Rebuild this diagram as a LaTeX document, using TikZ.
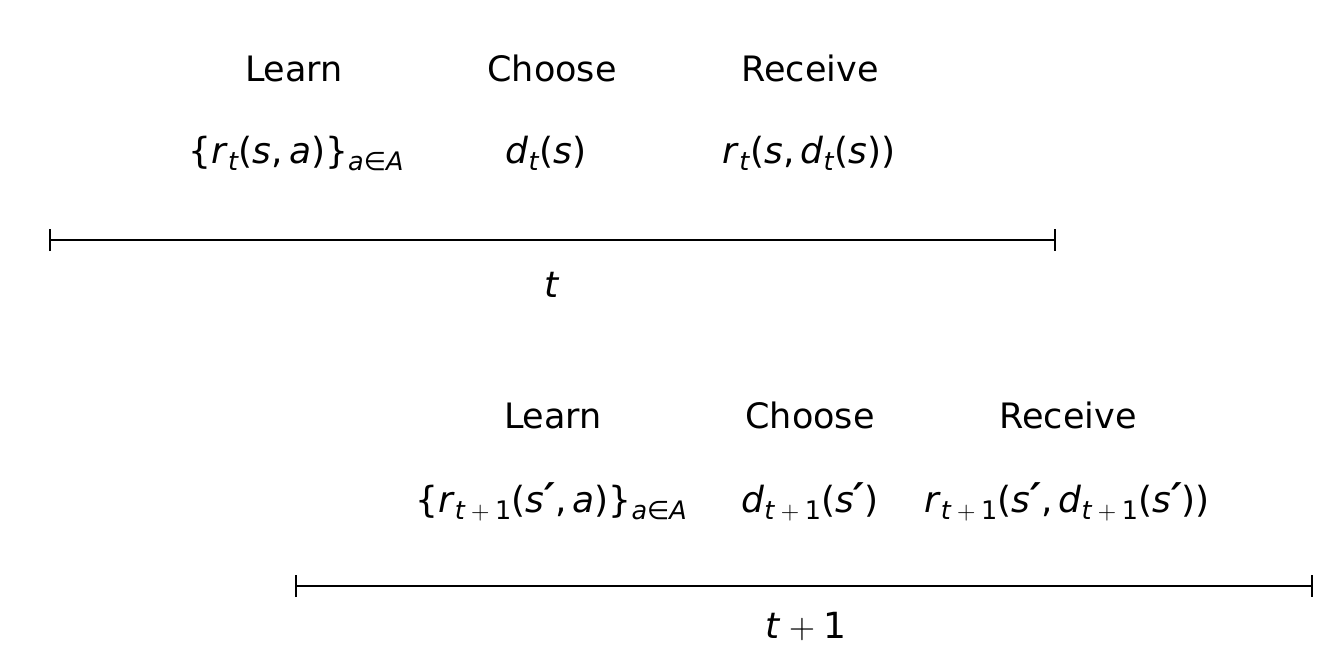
\RequirePackage{fix-cm}
\documentclass[tikz,border=0pt]{standalone}
\usepackage[no-math]{fontspec}
\setmainfont{DejaVu Sans}
\usetikzlibrary{arrows.meta}
\newcommand{\mi}[1]{\textit{#1}}
\newcommand{\sbx}[1]{\raisebox{-0.22em}{\fontsize{25.5}{29}\selectfont #1}}
\newcommand{\tpo}{\mi{t}${}+{}$1}
\newcommand{\prm}{{\fontsize{41}{42}\selectfont\textit{\textbf{′}}}}
\tikzset{
  lbl/.style={anchor=base, inner sep=0pt, font=\fontsize{35}{42}\selectfont},
  mth/.style={anchor=base, inner sep=0pt, font=\fontsize{36}{42}\selectfont},
  timeline/.style={line width=1.6pt, {Bar[width=22pt,line width=2.4pt]}-{Bar[width=22pt,line width=2.4pt]}}
}
\begin{document}
\begin{tikzpicture}[x=1pt,y=-1pt]
\useasboundingbox[fill=white] (0,0) rectangle (1335,648);
% period t
\node[lbl] (l1) at (294,81) {Learn};
\node[lbl] (c1) at (552,81) {Choose};
\node[lbl] (r1) at (810,81) {Receive};
\node[mth] (lm1) at (296,163) {\{\mi{r}\sbx{\mi{t}}(\mi{s},\,\mi{a})\}\sbx{\mi{a}∈\mi{A}}};
\node[mth] (cm1) at (546,163) {\mi{d}\sbx{\mi{t}}(\mi{s})};
\node[mth] (rm1) at (809,163) {\mi{r}\sbx{\mi{t}}(\mi{s},\,\mi{d}\sbx{\mi{t}}(\mi{s}))};
\coordinate (a1) at (49,240);
\coordinate (b1) at (1056,240);
\draw[timeline] (a1) -- (b1);
\node[mth] (t1) at (552,297) {\mi{t}};
% period t+1
\node[lbl] (l2) at (553,428) {Learn};
\node[lbl] (c2) at (810,428) {Choose};
\node[lbl] (r2) at (1068,428) {Receive};
\node[mth] (lm2) at (551,512) {\{\mi{r}\sbx{\tpo}(\mi{s}\prm,\,\mi{a})\}\sbx{\mi{a}∈\mi{A}}};
\node[mth] (cm2) at (810,512) {\mi{d}\sbx{\tpo}(\mi{s}\prm)};
\node[mth] (rm2) at (1067,512) {\mi{r}\sbx{\tpo}(\mi{s}\prm,\,\mi{d}\sbx{\tpo}(\mi{s}\prm))};
\coordinate (a2) at (295,586);
\coordinate (b2) at (1313,586);
\draw[timeline] (a2) -- (b2);
\node[mth] (t2) at (806,638) {\tpo};
\end{tikzpicture}
\end{document}
